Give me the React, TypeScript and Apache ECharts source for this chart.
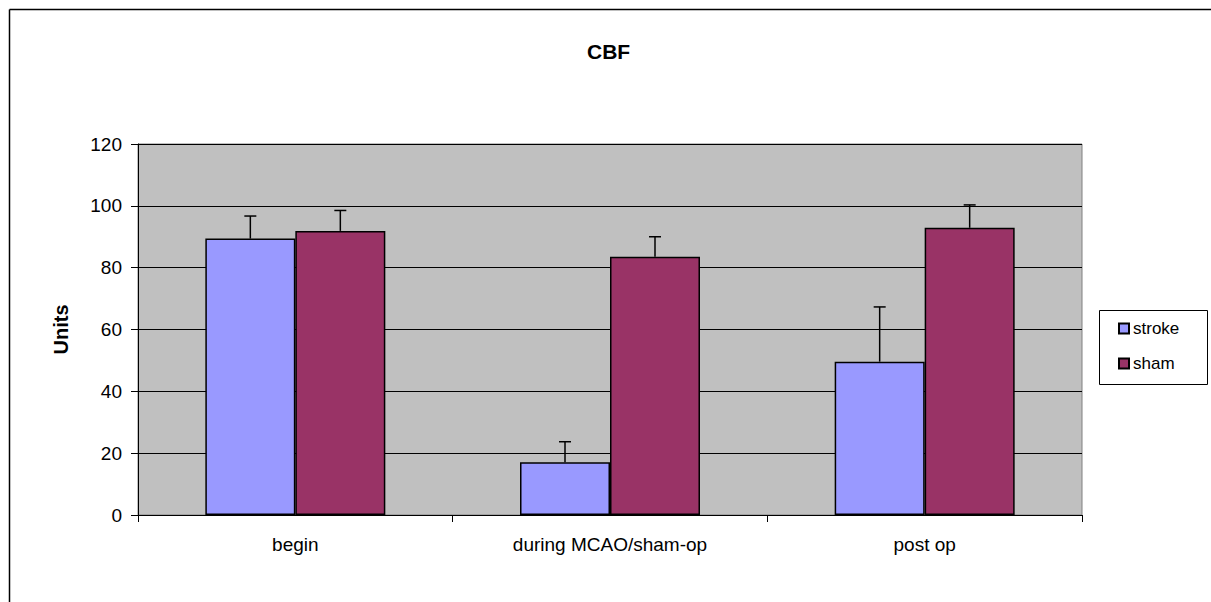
import React, { useEffect, useRef } from "react";
import * as echarts from "echarts";

const categories = ["begin", "during MCAO/sham-op", "post op"];
const strokeValues = [89.4, 17.1, 49.6];
const shamValues = [91.9, 83.5, 92.9];
const strokeUpper = [96.7, 23.7, 67.3];
const shamUpper = [98.5, 90.0, 100.3];
const seriesNames = ["stroke", "sham"];
const yTicks = { min: 0, max: 120, interval: 20 };

const FONT = "Liberation Sans, Arial, sans-serif";
const GAP = 0.428;

export default function App() {
  const ref = useRef<HTMLDivElement>(null);
  useEffect(() => {
    const chart = echarts.init(ref.current!, undefined, { renderer: "svg" });
    const makeErr = (upper: number[], base: number[], sign: number) => ({
      type: "custom",
      silent: true,
      z: 5,
      data: upper.map((u, i) => [i, base[i], u]),
      renderItem: (params: any, api: any) => {
        const idx = api.value(0);
        const band = api.size([1, 0])[0];
        const bw = (band * (1 - GAP)) / 2;
        const top = api.coord([idx, api.value(2)]);
        const bot = api.coord([idx, api.value(1)]);
        const x = top[0] + (sign * bw) / 2;
        const style = { stroke: "#000", lineWidth: 1.5 };
        return {
          type: "group",
          children: [
            { type: "line", shape: { x1: x, y1: top[1], x2: x, y2: bot[1] }, style },
            { type: "line", shape: { x1: x - 6, y1: top[1], x2: x + 6, y2: top[1] }, style },
          ],
        };
      },
    });
    chart.setOption({
      animation: false,
      title: {
        text: "CBF",
        left: 582,
        top: 36,
        textStyle: { fontFamily: FONT, fontSize: 21, fontWeight: "bold", color: "#000" },
      },
      legend: {
        orient: "vertical",
        left: 1113,
        top: 315,
        itemGap: 18,
        itemWidth: 10,
        itemHeight: 10,
        icon: "rect",
        data: seriesNames,
        textStyle: { fontFamily: FONT, fontSize: 17, color: "#000", padding: [0, 0, 0, -1] },
      },
      grid: {
        left: 138,
        top: 144,
        right: 129,
        bottom: 87,
        show: true,
        backgroundColor: "#C0C0C0",
        borderColor: "#808080",
        borderWidth: 1,
      },
      xAxis: {
        type: "category",
        data: categories,
        axisLine: { lineStyle: { color: "#000", width: 1 } },
        axisTick: { show: true, length: 7, alignWithLabel: false, lineStyle: { color: "#000" } },
        axisLabel: { fontFamily: FONT, fontSize: 19, color: "#000", margin: 20 },
        splitLine: { show: false },
      },
      yAxis: {
        type: "value",
        min: yTicks.min,
        max: yTicks.max,
        interval: yTicks.interval,
        name: "Units",
        nameLocation: "middle",
        nameGap: 67,
        nameTextStyle: { fontFamily: FONT, fontSize: 20, fontWeight: "bold", color: "#000" },
        axisLine: { show: true, lineStyle: { color: "#000", width: 1 } },
        axisTick: { show: true, length: 7, lineStyle: { color: "#000" } },
        axisLabel: { fontFamily: FONT, fontSize: 19, color: "#000", margin: 16 },
        splitLine: { show: true, lineStyle: { color: "#000", width: 1 } },
      },
      series: [
        {
          name: seriesNames[0],
          type: "bar",
          data: strokeValues,
          barGap: "0%",
          barCategoryGap: GAP * 100 + "%",
          itemStyle: { color: "#9999FF", borderColor: "#000", borderWidth: 1.5 },
        },
        {
          name: seriesNames[1],
          type: "bar",
          data: shamValues,
          barGap: "0%",
          barCategoryGap: GAP * 100 + "%",
          itemStyle: { color: "#993366", borderColor: "#000", borderWidth: 1.5 },
        },
        makeErr(strokeUpper, strokeValues, -1),
        makeErr(shamUpper, shamValues, 1),
      ],
      graphic: [
        {
          type: "rect",
          shape: { x: 1099.5, y: 310.5, width: 108, height: 74 },
          style: { fill: "#fff", stroke: "#000", lineWidth: 1 },
          z: -1,
          zlevel: 0,
        },
        {
          type: "line",
          shape: { x1: 9.5, y1: 9.5, x2: 9.5, y2: 602 },
          style: { stroke: "#000", lineWidth: 1.5 },
        },
        {
          type: "line",
          shape: { x1: 9.5, y1: 9.5, x2: 1211, y2: 9.5 },
          style: { stroke: "#000", lineWidth: 1.5 },
        },
      ],
    });
    return () => chart.dispose();
  }, []);
  return (
    <div
      ref={ref}
      style={{ position: "fixed", left: 0, top: 0, width: 1211, height: 602, background: "#fff" }}
    />
  );
}
